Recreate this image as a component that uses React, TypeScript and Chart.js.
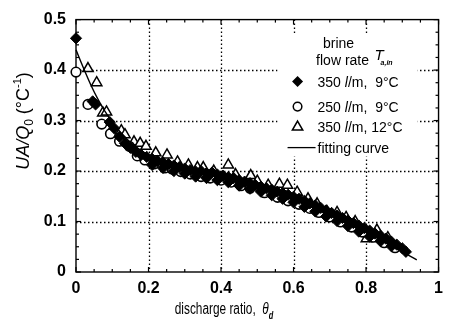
import React, { useEffect, useRef } from "react";
import { Chart, registerables } from "chart.js";

Chart.register(...registerables);

const FONT = '"Liberation Sans", Arial, Helvetica, sans-serif';

// axis ranges / ticks
const X_MIN = 0;
const X_MAX = 1;
const Y_MIN = 0;
const Y_MAX = 0.5;
const X_MAJOR = 0.2;
const Y_MAJOR = 0.1;
const X_MINOR = 0.05;
const Y_MINOR = 0.025;
const xGridValues = [0.2, 0.4, 0.6, 0.8];
const yGridValues = [0.1, 0.2, 0.3, 0.4];

// series: 350 l/m, 9°C (filled diamonds)
const s350_9: [number, number][] = [
  [0, 0.463], [0.046, 0.338], [0.054, 0.332], [0.093, 0.297], [0.105, 0.285], [0.12, 0.268],
  [0.135, 0.255], [0.15, 0.246], [0.165, 0.238], [0.18, 0.232], [0.195, 0.228],
  [0.21, 0.224], [0.21, 0.212], [0.225, 0.22], [0.24, 0.217], [0.24, 0.206], [0.255, 0.214],
  [0.27, 0.211], [0.27, 0.2], [0.285, 0.208], [0.3, 0.205], [0.3, 0.195], [0.315, 0.202],
  [0.33, 0.199], [0.33, 0.189], [0.345, 0.2], [0.36, 0.196], [0.36, 0.186], [0.375, 0.197],
  [0.39, 0.193], [0.39, 0.182], [0.405, 0.191], [0.42, 0.188], [0.42, 0.178], [0.435, 0.186],
  [0.45, 0.182], [0.45, 0.171], [0.465, 0.179], [0.48, 0.176], [0.48, 0.165], [0.495, 0.172],
  [0.51, 0.169], [0.51, 0.159], [0.525, 0.166], [0.54, 0.163], [0.54, 0.152], [0.555, 0.159],
  [0.57, 0.156], [0.57, 0.145], [0.585, 0.153], [0.6, 0.149], [0.6, 0.138], [0.615, 0.145],
  [0.63, 0.141], [0.63, 0.129], [0.645, 0.136], [0.66, 0.132], [0.66, 0.12], [0.675, 0.127],
  [0.69, 0.122], [0.69, 0.11], [0.705, 0.117], [0.72, 0.112], [0.72, 0.101], [0.735, 0.107],
  [0.75, 0.102], [0.75, 0.091], [0.765, 0.097], [0.78, 0.092], [0.78, 0.08], [0.795, 0.087],
  [0.81, 0.082], [0.81, 0.07], [0.825, 0.076], [0.84, 0.072], [0.84, 0.061], [0.855, 0.066],
  [0.87, 0.06], [0.87, 0.051], [0.885, 0.054], [0.9, 0.047], [0.91, 0.04],
];

// series: 250 l/m, 9°C (open circles)
const s250_9: [number, number][] = [
  [0, 0.396], [0.033, 0.332], [0.071, 0.293], [0.095, 0.274], [0.12, 0.259], [0.147, 0.249],
  [0.169, 0.23], [0.19, 0.222], [0.215, 0.214], [0.245, 0.206], [0.265, 0.204], [0.289, 0.199],
  [0.315, 0.194], [0.345, 0.189], [0.37, 0.186], [0.4, 0.182], [0.428, 0.178], [0.455, 0.171],
  [0.48, 0.166], [0.52, 0.157], [0.556, 0.148], [0.585, 0.141], [0.615, 0.134], [0.645, 0.126],
  [0.67, 0.118], [0.7, 0.109], [0.73, 0.099], [0.76, 0.089], [0.79, 0.079], [0.82, 0.069],
  [0.85, 0.058], [0.88, 0.048],
];

// series: 350 l/m, 12°C (open triangles)
const s350_12: [number, number][] = [
  [0.033, 0.403], [0.057, 0.375], [0.074, 0.315], [0.084, 0.317], [0.125, 0.28], [0.135, 0.272],
  [0.16, 0.258], [0.177, 0.255], [0.193, 0.249], [0.22, 0.236], [0.251, 0.232], [0.28, 0.218],
  [0.31, 0.212], [0.335, 0.207], [0.351, 0.207], [0.38, 0.2], [0.42, 0.212], [0.44, 0.193],
  [0.482, 0.191], [0.5, 0.18], [0.53, 0.172], [0.561, 0.174], [0.583, 0.172], [0.61, 0.158],
  [0.64, 0.145], [0.665, 0.135], [0.692, 0.12], [0.72, 0.118], [0.745, 0.108], [0.77, 0.1],
  [0.801, 0.066], [0.83, 0.083], [0.86, 0.068],
];

// fitting curve
const fitCurve: [number, number][] = [
  [0, 0.44], [0.02, 0.405], [0.04, 0.372], [0.06, 0.343], [0.08, 0.318], [0.1, 0.297],
  [0.125, 0.275], [0.15, 0.257], [0.175, 0.243], [0.2, 0.232], [0.25, 0.216], [0.3, 0.205],
  [0.35, 0.197], [0.4, 0.188], [0.45, 0.179], [0.5, 0.168], [0.55, 0.156], [0.6, 0.143],
  [0.65, 0.128], [0.7, 0.113], [0.75, 0.096], [0.8, 0.078], [0.85, 0.06], [0.9, 0.04],
  [0.94, 0.024],
];

const toPts = (a: [number, number][]) => a.map(([x, y]) => ({ x, y }));

type Run = { t: string; font: string; dy?: number };

function drawRuns(
  ctx: CanvasRenderingContext2D,
  runs: Run[],
  x: number,
  y: number,
  align: "left" | "center" | "right",
  sx = 1
) {
  let total = 0;
  for (const r of runs) {
    ctx.font = r.font;
    total += ctx.measureText(r.t).width;
  }
  ctx.save();
  ctx.translate(x, y);
  ctx.scale(sx, 1);
  let cx = align === "center" ? -total / 2 : align === "right" ? -total : 0;
  ctx.textAlign = "left";
  for (const r of runs) {
    ctx.font = r.font;
    ctx.fillText(r.t, cx, r.dy || 0);
    cx += ctx.measureText(r.t).width;
  }
  ctx.restore();
}

function line(ctx: CanvasRenderingContext2D, x1: number, y1: number, x2: number, y2: number) {
  ctx.beginPath();
  ctx.moveTo(x1, y1);
  ctx.lineTo(x2, y2);
  ctx.stroke();
}

const framePlugin = {
  id: "frameAndDecor",
  beforeDatasetsDraw(chart: any) {
    const { ctx, chartArea, scales } = chart;
    const { left, right, top, bottom } = chartArea;
    const xs = scales.x;
    const ys = scales.y;
    ctx.save();
    // dotted grid
    ctx.strokeStyle = "#000";
    ctx.lineWidth = 1.3;
    ctx.setLineDash([1.5, 2.5]);
    for (const v of xGridValues) {
      const px = Math.round(xs.getPixelForValue(v)) + 0.5;
      line(ctx, px, top, px, bottom);
    }
    for (const v of yGridValues) {
      const py = Math.round(ys.getPixelForValue(v)) + 0.5;
      line(ctx, left, py, right, py);
    }
    ctx.setLineDash([]);
    // legend background
    ctx.fillStyle = "#fff";
    ctx.fillRect(right - 161, top + 15, 140, 122);
    // frame
    ctx.strokeStyle = "#000";
    ctx.lineWidth = 1.4;
    ctx.strokeRect(left, top, right - left, bottom - top);
    // ticks
    ctx.lineWidth = 1.2;
    const nx = Math.round((X_MAX - X_MIN) / X_MINOR);
    const perX = Math.round(X_MAJOR / X_MINOR);
    for (let i = 0; i <= nx; i++) {
      const px = xs.getPixelForValue(X_MIN + i * X_MINOR);
      const len = i % perX === 0 ? 5 : 3;
      line(ctx, px, bottom, px, bottom - len);
      line(ctx, px, top, px, top + len);
    }
    const ny = Math.round((Y_MAX - Y_MIN) / Y_MINOR);
    const perY = Math.round(Y_MAJOR / Y_MINOR);
    for (let i = 0; i <= ny; i++) {
      const py = ys.getPixelForValue(Y_MIN + i * Y_MINOR);
      const len = i % perY === 0 ? 5 : 3;
      line(ctx, left, py, left + len, py);
      line(ctx, right, py, right - len, py);
    }
    ctx.restore();
  },
  afterDraw(chart: any) {
    const { ctx, chartArea } = chart;
    const { right, top } = chartArea;
    ctx.save();
    ctx.fillStyle = "#000";
    ctx.strokeStyle = "#000";
    ctx.textBaseline = "alphabetic";

    // legend header
    const f14 = `14px ${FONT}`;
    drawRuns(ctx, [{ t: "brine", font: f14 }], right - 100, top + 28, "center");
    drawRuns(ctx, [{ t: "flow rate", font: f14 }], right - 96, top + 45, "center");
    drawRuns(ctx, [{ t: "T", font: `italic 15px ${FONT}` }], right - 64, top + 40, "left");
    drawRuns(ctx, [{ t: "a,in", font: `italic bold 7px ${FONT}` }], right - 58, top + 45, "left");

    const mx = right - 141;
    const tx = right - 121;
    const rows = [top + 62, top + 87, top + 107];
    // diamond
    ctx.beginPath();
    ctx.moveTo(mx, rows[0] - 5.5);
    ctx.lineTo(mx + 5.5, rows[0]);
    ctx.lineTo(mx, rows[0] + 5.5);
    ctx.lineTo(mx - 5.5, rows[0]);
    ctx.closePath();
    ctx.fill();
    // circle
    ctx.lineWidth = 1.5;
    ctx.beginPath();
    ctx.arc(mx, rows[1], 4.3, 0, Math.PI * 2);
    ctx.stroke();
    // triangle
    ctx.beginPath();
    ctx.moveTo(mx, rows[2] - 5.5);
    ctx.lineTo(mx + 5.2, rows[2] + 3.5);
    ctx.lineTo(mx - 5.2, rows[2] + 3.5);
    ctx.closePath();
    ctx.stroke();
    // fitting curve line
    const ly = top + 128;
    ctx.lineWidth = 1.3;
    line(ctx, right - 151, ly, right - 123, ly);

    const it = `italic 14px ${FONT}`;
    const base = 5;
    drawRuns(ctx, [{ t: "350 ", font: f14 }, { t: "l", font: it }, { t: "/m,  9°C", font: f14 }], tx, rows[0] + base, "left");
    drawRuns(ctx, [{ t: "250 ", font: f14 }, { t: "l", font: it }, { t: "/m,  9°C", font: f14 }], tx, rows[1] + base, "left");
    drawRuns(ctx, [{ t: "350 ", font: f14 }, { t: "l", font: it }, { t: "/m, 12°C", font: f14 }], tx, rows[2] + base, "left");
    drawRuns(ctx, [{ t: "fitting curve", font: f14 }], tx, ly + 5, "left");

    // x axis title (condensed)
    drawRuns(
      ctx,
      [
        { t: "discharge ratio,  ", font: `16px ${FONT}` },
        { t: "θ", font: `italic 16px ${FONT}` },
        { t: "d", font: `italic bold 10px ${FONT}`, dy: 5 },
      ],
      224,
      314,
      "center",
      0.74
    );

    // y axis title (rotated)
    ctx.translate(29, 121);
    ctx.rotate(-Math.PI / 2);
    drawRuns(
      ctx,
      [
        { t: "UA/Q", font: `italic 18px ${FONT}` },
        { t: "0", font: `12px ${FONT}`, dy: 4 },
        { t: " (°C", font: `18px ${FONT}` },
        { t: "-1", font: `11px ${FONT}`, dy: -8 },
        { t: ")", font: `18px ${FONT}` },
      ],
      0,
      0,
      "center"
    );
    ctx.restore();
  },
};

export default function App() {
  const ref = useRef<HTMLCanvasElement | null>(null);
  useEffect(() => {
    if (!ref.current) return;
    const tickFont = { family: FONT, size: 16, weight: "bold" as const };
    const chart = new Chart(ref.current, {
      type: "scatter",
      data: {
        datasets: [
          {
            label: "fitting curve",
            data: toPts(fitCurve),
            showLine: true,
            borderColor: "#000",
            borderWidth: 1.4,
            pointRadius: 0,
            cubicInterpolationMode: "monotone",
            order: 0,
            clip: false,
          } as any,
          {
            label: "350 l/m, 9°C",
            data: toPts(s350_9),
            pointStyle: "rectRot",
            pointRadius: 5.6,
            backgroundColor: "#000",
            borderColor: "#000",
            borderWidth: 1,
            order: 1,
            clip: false,
          } as any,
          {
            label: "250 l/m, 9°C",
            data: toPts(s250_9),
            pointStyle: "circle",
            pointRadius: 4.8,
            backgroundColor: "#fff",
            borderColor: "#000",
            borderWidth: 1.6,
            order: 2,
            clip: false,
          } as any,
          {
            label: "350 l/m, 12°C",
            data: toPts(s350_12),
            pointStyle: "triangle",
            pointRadius: 6,
            backgroundColor: "#fff",
            borderColor: "#000",
            borderWidth: 1.5,
            order: 3,
            clip: false,
          } as any,
        ],
      },
      options: {
        animation: false,
        responsive: false,
        maintainAspectRatio: false,
        layout: { padding: { top: 13, right: 7, left: 0, bottom: 0 } },
        plugins: { legend: { display: false }, tooltip: { enabled: false } },
        scales: {
          x: {
            type: "linear",
            min: X_MIN,
            max: X_MAX,
            grid: { display: false, drawTicks: false },
            border: { display: false },
            ticks: {
              stepSize: X_MAJOR,
              font: tickFont,
              color: "#000",
              padding: 7,
              maxRotation: 0,
              callback: (v: any) => String(Math.round(Number(v) * 10) / 10),
            },
            afterFit: (s: any) => {
              s.height = 53;
            },
          },
          y: {
            type: "linear",
            min: Y_MIN,
            max: Y_MAX,
            grid: { display: false, drawTicks: false },
            border: { display: false },
            ticks: {
              stepSize: Y_MAJOR,
              font: tickFont,
              color: "#000",
              padding: 10,
              callback: (v: any) => String(Math.round(Number(v) * 10) / 10),
            },
            afterFit: (s: any) => {
              s.width = 76;
            },
          },
        },
      } as any,
      plugins: [framePlugin],
    });
    return () => chart.destroy();
  }, []);
  return (
    <div style={{ position: "absolute", left: 0, top: 0, width: 450, height: 325, background: "#fff" }}>
      <canvas ref={ref} width={450} height={325} style={{ display: "block" }} />
    </div>
  );
}
